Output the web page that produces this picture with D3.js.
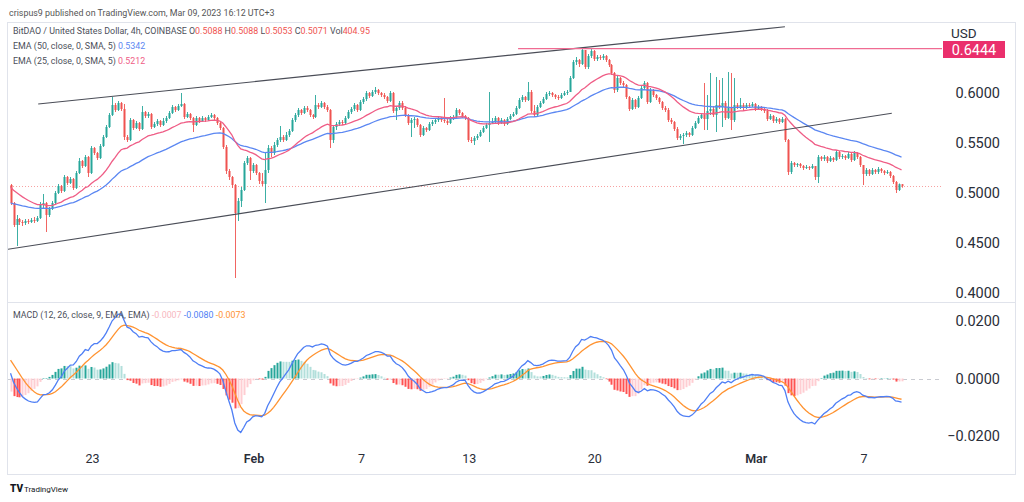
<!DOCTYPE html>
<html><head><meta charset="utf-8">
<script src="https://cdn.jsdelivr.net/npm/d3@7"></script>
<style>body{margin:0;background:#fff}svg{display:block}text{font-family:Roboto,"Liberation Sans",sans-serif}</style>
</head><body><svg id="c" width="1024" height="502"></svg>
<script>
// ---------------- data ----------------
const firstOpen = 0.508;
const startTime = Date.UTC(2023,0,18,11,0); // first 4h candle (UTC+3 display time)
const stepMs = 4*3600*1000;
const closes = [
.490,.468,.474,.471,.470,.472,.471,.473,.472,.475,
.488,.490,.478,.484,.490,.500,.507,.502,.516,.510,
.514,.505,.520,.532,.527,.536,.520,.545,.540,.535,
.547,.556,.566,.578,.588,.583,.590,.584,.556,.553,
.573,.565,.570,.564,.581,.577,.579,.566,.569,.572,
.568,.572,.575,.580,.586,.583,.587,.589,.576,.579,
.575,.568,.575,.572,.575,.573,.576,.578,.575,.570,
.565,.546,.522,.516,.508,.480,.492,.503,.530,.535,
.522,.528,.520,.512,.509,.523,.545,.540,.548,.553,
.556,.553,.558,.562,.573,.578,.583,.580,.585,.583,
.578,.576,.588,.586,.590,.586,.583,.553,.566,.569,
.571,.570,.575,.581,.584,.588,.583,.591,.594,.600,
.597,.601,.603,.600,.598,.596,.592,.600,.582,.585,
.590,.585,.578,.570,.573,.574,.568,.558,.565,.563,
.569,.571,.573,.575,.573,.572,.570,.575,.576,.583,
.580,.577,.575,.553,.552,.555,.557,.561,.565,.568,
.570,.571,.575,.570,.573,.569,.574,.577,.579,.585,
.593,.596,.593,.601,.582,.578,.586,.590,.594,.599,
.600,.598,.596,.595,.598,.600,.601,.615,.631,.633,
.629,.643,.626,.637,.642,.634,.636,.635,.637,.633,
.628,.620,.603,.615,.610,.608,.596,.584,.593,.586,
.595,.605,.610,.591,.603,.598,.595,.591,.585,.583,
.573,.571,.564,.555,.557,.558,.560,.558,.565,.570,
.575,.578,.574,.582,.584,.578,.588,.586,.590,.575,
.586,.573,.588,.586,.588,.585,.588,.587,.589,.584,
.586,.584,.582,.574,.577,.572,.574,.571,.574,.553,
.521,.530,.528,.529,.527,.525,.526,.525,.527,.516,
.536,.534,.536,.532,.535,.533,.541,.536,.537,.535,
.539,.533,.540,.536,.528,.519,.523,.519,.523,.521,
.524,.522,.520,.521,.517,.511,.503,.5088,.5071];
const highs = [
.509,.491,.478,.475,.473,.474,.474,.475,.476,.477,
.491,.499,.491,.486,.492,.502,.509,.508,.518,.517,
.516,.515,.522,.535,.533,.538,.537,.547,.546,.541,
.549,.558,.568,.580,.596,.590,.592,.591,.589,.558,
.575,.574,.572,.571,.587,.582,.581,.580,.571,.574,
.573,.575,.577,.582,.588,.587,.589,.600,.590,.581,
.580,.576,.577,.576,.577,.576,.578,.580,.579,.576,
.571,.566,.548,.524,.517,.509,.495,.506,.532,.537,
.536,.530,.529,.521,.520,.540,.548,.547,.551,.555,
.567,.558,.561,.564,.575,.580,.585,.584,.587,.587,
.584,.579,.598,.590,.592,.591,.588,.584,.568,.571,
.573,.573,.577,.583,.586,.590,.589,.593,.596,.602,
.601,.603,.606,.604,.601,.600,.597,.602,.601,.587,
.592,.592,.587,.579,.575,.576,.575,.569,.567,.566,
.571,.573,.575,.577,.576,.595,.574,.577,.578,.585,
.584,.581,.578,.576,.556,.557,.559,.563,.567,.570,
.601,.575,.577,.576,.575,.574,.576,.579,.581,.587,
.595,.598,.597,.611,.603,.588,.588,.592,.596,.601,
.602,.601,.599,.598,.600,.602,.603,.617,.633,.636,
.634,.6444,.643,.639,.644,.643,.638,.638,.639,.638,
.634,.629,.621,.617,.616,.612,.609,.597,.595,.594,
.597,.607,.612,.611,.605,.604,.599,.596,.592,.587,
.585,.575,.572,.566,.559,.560,.562,.561,.567,.572,
.577,.580,.610,.598,.620,.587,.616,.613,.615,.592,
.621,.620,.615,.590,.595,.590,.590,.590,.591,.590,
.588,.587,.585,.584,.579,.578,.576,.575,.576,.575,
.554,.532,.531,.530,.530,.528,.528,.527,.529,.527,
.538,.537,.538,.537,.537,.536,.543,.542,.539,.538,
.541,.540,.542,.541,.537,.527,.525,.524,.525,.524,
.526,.525,.523,.523,.522,.518,.512,.5095,.5088];
const lows = [
.488,.466,.447,.468,.467,.468,.469,.470,.470,.471,
.474,.484,.461,.476,.483,.489,.499,.500,.501,.508,
.509,.503,.504,.519,.525,.526,.516,.519,.538,.533,
.534,.546,.555,.565,.577,.581,.582,.582,.553,.551,
.552,.563,.564,.562,.563,.575,.575,.564,.565,.567,
.566,.567,.570,.574,.579,.581,.582,.586,.574,.575,
.573,.561,.567,.570,.571,.571,.572,.575,.573,.568,
.563,.544,.519,.513,.505,.415,.472,.486,.502,.528,
.513,.520,.518,.509,.507,.490,.520,.536,.538,.546,
.551,.551,.552,.556,.561,.571,.576,.578,.579,.581,
.576,.574,.575,.584,.585,.584,.581,.545,.550,.563,
.567,.568,.569,.574,.579,.582,.581,.582,.589,.592,
.595,.596,.599,.598,.596,.594,.590,.591,.580,.573,
.583,.583,.576,.568,.556,.565,.566,.556,.557,.561,
.562,.567,.569,.571,.571,.570,.568,.569,.573,.575,
.578,.575,.573,.551,.550,.548,.553,.556,.560,.564,
.551,.569,.569,.568,.569,.567,.568,.573,.576,.578,
.584,.591,.591,.592,.580,.576,.577,.585,.589,.593,
.597,.596,.594,.593,.594,.597,.598,.601,.614,.628,
.626,.628,.624,.624,.635,.632,.632,.633,.633,.631,
.626,.618,.600,.601,.608,.606,.594,.582,.583,.584,
.585,.594,.604,.589,.590,.596,.593,.589,.583,.581,
.571,.569,.562,.553,.553,.549,.556,.556,.557,.564,
.569,.574,.563,.563,.578,.576,.561,.584,.566,.573,
.574,.563,.571,.584,.584,.583,.584,.585,.586,.582,
.583,.582,.580,.572,.573,.570,.570,.569,.570,.551,
.518,.519,.526,.526,.525,.523,.524,.523,.524,.513,
.510,.532,.532,.530,.531,.531,.532,.534,.534,.533,
.534,.531,.532,.534,.526,.508,.517,.517,.518,.519,
.519,.520,.518,.519,.515,.509,.500,.502,.5053];
// indicator seeds (values just before the first visible candle)
const ema50Seed = 0.490, ema25Seed = 0.507;
const ema12Seed = 0.508, ema26Seed = 0.5045, signalSeed = 0.0075;
// drawn objects
const upperTrend = [{t:Date.UTC(2023,0,20,0), p:0.589},{t:Date.UTC(2023,2,2,15), p:0.6663}];
const lowerTrend = [{t:Date.UTC(2023,0,18,7), p:0.4437},{t:Date.UTC(2023,2,8,14), p:0.5797}];
const resistance = {t:Date.UTC(2023,1,15,18), p:0.6444, label:"0.6444"};
const lastPrice = 0.5071;
// axis ticks / labels
const priceTicks = [0.40,0.45,0.50,0.55,0.60];
const macdTicks = [-0.02,0,0.02];
const timeTicks = [
 {t:Date.UTC(2023,0,23), label:"23", bold:false},
 {t:Date.UTC(2023,1,1), label:"Feb", bold:true},
 {t:Date.UTC(2023,1,7), label:"7", bold:false},
 {t:Date.UTC(2023,1,13), label:"13", bold:false},
 {t:Date.UTC(2023,1,20), label:"20", bold:false},
 {t:Date.UTC(2023,2,1), label:"Mar", bold:true},
 {t:Date.UTC(2023,2,7), label:"7", bold:false}];
const headerText = "crispus9 published on TradingView.com, Mar 09, 2023 16:12 UTC+3";
const symbolText = "BitDAO / United States Dollar, 4h, COINBASE";
const ohlcv = [["O","0.5088"],["H","0.5088"],["L","0.5053"],["C","0.5071"],["Vol","404.95"]];
const emaLegend = [["EMA (50, close, 0, SMA, 5)","0.5342","#5b87f2"],["EMA (25, close, 0, SMA, 5)","0.5212","#ef5d86"]];
const macdLegend = {name:"MACD (12, 26, close, 9, EMA, EMA)", vals:[["-0.0007","#f7b7c0"],["-0.0080","#4f7ff5"],["-0.0073","#ff9331"]]};

// ---------------- derived ----------------
const N = closes.length;
const times = closes.map((_,i)=>startTime+i*stepMs);
const opens = closes.map((c,i)=> i===0?firstOpen:closes[i-1]);
function ema(vals,n,seed){const a=2/(n+1);let e=seed;return vals.map(v=>(e=a*v+(1-a)*e));}
const ema50 = ema(closes,50,ema50Seed), ema25 = ema(closes,25,ema25Seed);
const e12 = ema(closes,12,ema12Seed), e26 = ema(closes,26,ema26Seed);
const macd = e12.map((v,i)=>v-e26[i]);
const signal = ema(macd,9,signalSeed);
const hist = macd.map((v,i)=>v-signal[i]);

// ---------------- layout ----------------
const svg = d3.select("#c");
const L=7, R=942, RB=1016, priceTop=22, priceBot=302, macdTop=303, macdBot=452, bottom=475;
const FS = 8.9;
const x = d3.scaleTime().domain([Date.UTC(2023,0,23),Date.UTC(2023,2,7)]).range([92,863.4]);
const y = d3.scaleLinear().domain([0.4,0.6]).range([293,93]);
const ym = d3.scaleLinear().domain([-0.02,0.02]).range([436,321]);

svg.append("text").attr("x",9).attr("y",15.5).attr("font-size",FS).attr("fill","#555").text(headerText);
svg.append("rect").attr("x",L+0.5).attr("y",priceTop+0.5).attr("width",RB-L-1).attr("height",bottom-priceTop-1)
  .attr("fill","none").attr("stroke","#e0e3eb");
svg.append("line").attr("x1",L).attr("x2",RB).attr("y1",priceBot+0.5).attr("y2",priceBot+0.5).attr("stroke","#e0e3eb");

const defs = svg.append("defs");
defs.append("clipPath").attr("id","cp").append("rect").attr("x",L+1).attr("y",priceTop+1).attr("width",R-L-1).attr("height",priceBot-priceTop-1);
defs.append("clipPath").attr("id","cm").append("rect").attr("x",L+1).attr("y",macdTop+1).attr("width",R-L-1).attr("height",macdBot-macdTop);
const gP = svg.append("g").attr("clip-path","url(#cp)");
const gM = svg.append("g").attr("clip-path","url(#cm)");

// last price dotted line
gP.append("line").attr("x1",L).attr("x2",R).attr("y1",Math.round(y(lastPrice))+0.5).attr("y2",Math.round(y(lastPrice))+0.5)
  .attr("stroke","#f7a1a1").attr("stroke-dasharray","1,2");

// candles
const UP="#26a69a", DN="#ef5350";
const cg = gP.append("g");
for(let i=0;i<N;i++){
  const X=Math.round(x(times[i])); const up=closes[i]>=opens[i]; const col=up?UP:DN;
  cg.append("line").attr("x1",X+0.5).attr("x2",X+0.5).attr("y1",y(highs[i])).attr("y2",y(lows[i])).attr("stroke",col).attr("stroke-width",0.9);
  const y1=y(Math.max(opens[i],closes[i])), y2=y(Math.min(opens[i],closes[i]));
  cg.append("rect").attr("x",X-0.5).attr("width",2).attr("y",y1).attr("height",Math.max(1,y2-y1)).attr("fill",col);
}
// EMAs
const lineP = d3.line().x((d,i)=>x(times[i])).y(d=>y(d));
gP.append("path").attr("d",lineP(ema50)).attr("fill","none").attr("stroke","#5b87f2").attr("stroke-width",1.3);
gP.append("path").attr("d",lineP(ema25)).attr("fill","none").attr("stroke","#ef5d86").attr("stroke-width",1.3);
// trend lines
const tl = d3.line().x(d=>x(d.t)).y(d=>y(d.p));
[upperTrend,lowerTrend].forEach(t=>gP.append("path").attr("d",tl(t)).attr("fill","none").attr("stroke","#4a4d57").attr("stroke-width",1.1));
// resistance ray
gP.append("line").attr("x1",x(resistance.t)).attr("x2",R).attr("y1",y(resistance.p)).attr("y2",y(resistance.p)).attr("stroke","#f06b92").attr("stroke-width",1.2);

// MACD pane
gM.append("line").attr("x1",L).attr("x2",R).attr("y1",Math.round(ym(0))+0.5).attr("y2",Math.round(ym(0))+0.5)
  .attr("stroke","#c9cbd1").attr("stroke-dasharray","4,4");
for(let i=0;i<N;i++){
  const h=hist[i], ph=i?hist[i-1]:h; let col;
  if(h>=0) col = h>ph?"#26a69a":"#b2dfdb"; else col = h<ph?"#ff5252":"#ffcdd2";
  const X=Math.round(x(times[i]));
  gM.append("rect").attr("x",X-0.5).attr("width",2).attr("y",Math.min(ym(h),ym(0))).attr("height",Math.max(0.5,Math.abs(ym(h)-ym(0)))).attr("fill",col);
}
const lineM = d3.line().x((d,i)=>x(times[i])).y(d=>ym(d));
gM.append("path").attr("d",lineM(signal)).attr("fill","none").attr("stroke","#ff9331").attr("stroke-width",1.3);
gM.append("path").attr("d",lineM(macd)).attr("fill","none").attr("stroke","#4f7ff5").attr("stroke-width",1.3);

// axes
const axP = svg.append("g").attr("transform",`translate(${1000},0)`).call(d3.axisLeft(y).tickValues(priceTicks).tickFormat(d3.format(".4f")).tickSize(0));
const axM = svg.append("g").attr("transform",`translate(${1000},0)`).call(d3.axisLeft(ym).tickValues(macdTicks).tickFormat(d3.format(".4f")).tickSize(0));
[axP,axM].forEach(a=>{a.select(".domain").remove();a.selectAll("text").attr("font-size",14.5).attr("fill","#2a2e39").attr("x",0).attr("text-anchor","end").style("font-family","Roboto,sans-serif");});
const axT = svg.append("g").attr("transform",`translate(0,${449})`).call(d3.axisBottom(x).tickValues(timeTicks.map(d=>d.t)).tickFormat((d,i)=>timeTicks[i].label).tickSize(0));
axT.select(".domain").remove();
axT.selectAll("text").attr("font-size",12.5).attr("fill","#2a2e39").attr("dy","0.9em").attr("font-weight",(d,i)=>timeTicks[i].bold?600:400).style("font-family","Roboto,sans-serif");

svg.append("text").attr("x",951).attr("y",38).attr("font-size",13.5).attr("fill","#2a2e39").text("USD");
// price label for the resistance
svg.append("rect").attr("x",943).attr("y",41).attr("width",62).attr("height",17).attr("fill","#ea2f6c");
svg.append("text").attr("x",974).attr("y",54.5).attr("text-anchor","middle").attr("font-size",14.5).attr("fill","#fff").text(resistance.label);

// legends
const lg = svg.append("text").attr("x",13).attr("y",33.5).attr("font-size",FS).attr("fill","#4c4f5a");
lg.append("tspan").text(symbolText+"  ");
ohlcv.forEach(([k,v])=>{lg.append("tspan").text(" "+k);lg.append("tspan").attr("fill","#ef5350").text(v);});
emaLegend.forEach(([n,v,c],j)=>{
  const t=svg.append("text").attr("x",13).attr("y",48.5+15*j).attr("font-size",FS).attr("fill","#4c4f5a");
  t.append("tspan").text(n+"  ");t.append("tspan").attr("fill",c).text(v);
});
const ml = svg.append("text").attr("x",13).attr("y",317.5).attr("font-size",FS).attr("fill","#4c4f5a");
ml.append("tspan").text(macdLegend.name+"  ");
macdLegend.vals.forEach(([v,c])=>ml.append("tspan").attr("fill",c).text(v+"  "));

// footer logo
svg.append("text").attr("x",10).attr("y",492).attr("font-size",10).attr("font-weight",900).attr("fill","#131722").text("TV");
svg.append("text").attr("x",24).attr("y",492).attr("font-size",8).attr("fill","#131722").text("TradingView");
</script></body></html>
